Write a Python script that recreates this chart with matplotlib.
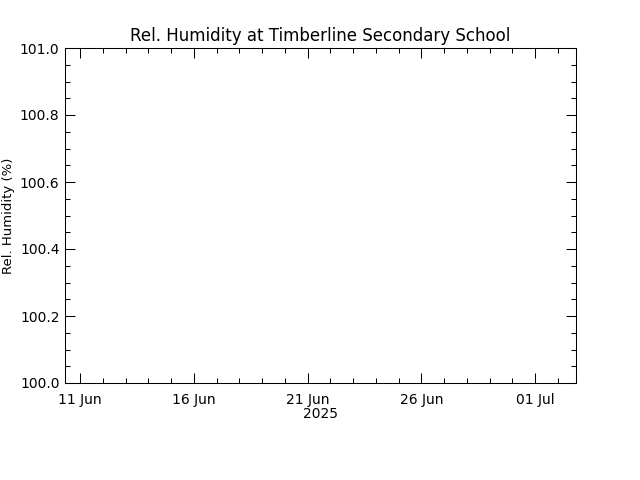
import numpy as np
import matplotlib
matplotlib.use("Agg")
import matplotlib.pyplot as plt
import matplotlib.dates as mdates
from matplotlib.ticker import MultipleLocator
from datetime import datetime

# Data: no humidity records in this window (plot is empty)
times = np.array([], dtype="datetime64[s]")
humidity = np.array([], dtype=float)

x_start = datetime(2025, 6, 10, 8)
x_end = datetime(2025, 7, 2, 19)
y_min, y_max = 100.0, 101.0

title = "Rel. Humidity at Timberline Secondary School"
ylabel = "Rel. Humidity (%)"
xlabel = "2025"

plt.rcParams["font.family"] = "DejaVu Sans"

fig = plt.figure(figsize=(6.4, 4.8), dpi=100)
ax = fig.add_axes([65 / 640, 1 - 383 / 480, 511 / 640, 335 / 480])

ax.plot(times, humidity, color="black", linewidth=0.8)

ax.set_xlim(x_start, x_end)
ax.set_ylim(y_min, y_max)

ax.xaxis.set_major_locator(mdates.DayLocator(bymonthday=[1, 11, 16, 21, 26]))
ax.xaxis.set_minor_locator(mdates.DayLocator())
ax.xaxis.set_major_formatter(mdates.DateFormatter("%d %b"))
ax.yaxis.set_major_locator(MultipleLocator(0.2))
ax.yaxis.set_minor_locator(MultipleLocator(0.05))
ax.yaxis.set_major_formatter(plt.FormatStrFormatter("%.1f"))

ax.tick_params(which="both", direction="in", top=True, right=True,
               width=0.75, colors="black", labelsize=10)
ax.tick_params(which="major", length=7.2)
ax.tick_params(which="minor", length=3.6)
ax.tick_params(axis="x", which="major", pad=7)
ax.tick_params(axis="y", which="major", pad=4)
for s in ax.spines.values():
    s.set_linewidth(0.75)

ax.set_title(title, fontsize=12, pad=5)
ax.set_ylabel(ylabel, fontsize=9.5)
ax.yaxis.set_label_coords(-0.098, 0.5)
ax.set_xlabel(xlabel, fontsize=10, labelpad=0)

fig.savefig("out.png", dpi=100)
